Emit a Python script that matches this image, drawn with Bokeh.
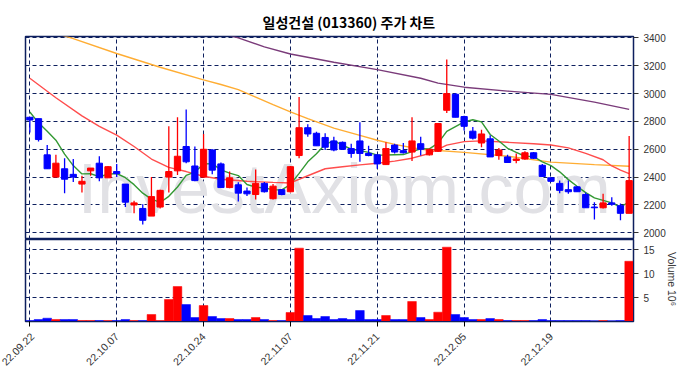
import math
from bokeh.plotting import figure
from bokeh.layouts import column
from bokeh.models import Range1d, FixedTicker, ColumnDataSource, Label
from bokeh.embed import file_html
from bokeh.resources import INLINE

# ---------------- data ----------------
dates = [
    "22.09.22", "22.09.23", "22.09.26", "22.09.27", "22.09.28", "22.09.29", "22.09.30",
    "22.10.04", "22.10.05", "22.10.06", "22.10.07", "22.10.11", "22.10.12", "22.10.13",
    "22.10.14", "22.10.17", "22.10.18", "22.10.19", "22.10.20", "22.10.21", "22.10.24",
    "22.10.25", "22.10.26", "22.10.27", "22.10.28", "22.10.31", "22.11.01", "22.11.02",
    "22.11.03", "22.11.04", "22.11.07", "22.11.08", "22.11.09", "22.11.10", "22.11.11",
    "22.11.14", "22.11.15", "22.11.16", "22.11.17", "22.11.18", "22.11.21", "22.11.22",
    "22.11.23", "22.11.24", "22.11.25", "22.11.28", "22.11.29", "22.11.30", "22.12.01",
    "22.12.02", "22.12.05", "22.12.06", "22.12.07", "22.12.08", "22.12.09", "22.12.12",
    "22.12.13", "22.12.14", "22.12.15", "22.12.16", "22.12.19", "22.12.20", "22.12.21",
    "22.12.22", "22.12.23", "22.12.26", "22.12.27", "22.12.28", "22.12.29", "23.01.02",
]
open_ = [2830, 2820, 2560, 2400, 2460, 2420, 2350, 2445, 2500, 2395,
         2440, 2350, 2200, 2175, 2120, 2185, 2400, 2445, 2620, 2480,
         2400, 2595, 2495, 2325, 2345, 2300, 2275, 2355, 2245, 2310,
         2295, 2555, 2755, 2715, 2685, 2660, 2650, 2605, 2660, 2570,
         2560, 2490, 2630, 2590, 2580, 2640, 2560, 2585, 2880, 2995,
         2835, 2730, 2645, 2675, 2555, 2545, 2520, 2530, 2575, 2485,
         2395, 2355, 2310, 2330, 2275, 2185, 2180, 2215, 2195, 2140]
high = [2830, 2820, 2630, 2560, 2535, 2530, 2410, 2465, 2550, 2480,
        2495, 2350, 2230, 2205, 2400, 2310, 2765, 2830, 2885, 2620,
        2710, 2600, 2505, 2440, 2363, 2325, 2455, 2365, 2350, 2310,
        2480, 2975, 2780, 2725, 2715, 2690, 2655, 2640, 2795, 2625,
        2565, 2650, 2640, 2645, 2830, 2690, 2605, 2785, 3245, 3005,
        2840, 2760, 2740, 2700, 2610, 2560, 2570, 2585, 2580, 2495,
        2395, 2375, 2375, 2335, 2290, 2220, 2280, 2255, 2210, 2695]
low = [2720, 2655, 2460, 2400, 2285, 2365, 2290, 2410, 2370, 2395,
       2400, 2185, 2140, 2060, 2120, 2175, 2290, 2415, 2500, 2370,
       2395, 2420, 2325, 2320, 2225, 2265, 2240, 2290, 2240, 2270,
       2290, 2535, 2690, 2625, 2595, 2585, 2595, 2540, 2510, 2550,
       2460, 2490, 2570, 2570, 2515, 2555, 2555, 2580, 2860, 2830,
       2735, 2670, 2615, 2545, 2525, 2505, 2500, 2525, 2530, 2400,
       2365, 2285, 2280, 2295, 2180, 2095, 2175, 2195, 2090, 2140]
close = [2810, 2670, 2460, 2500, 2385, 2400, 2370, 2465, 2395, 2475,
         2425, 2220, 2215, 2090, 2260, 2305, 2440, 2550, 2510, 2375,
         2600, 2450, 2325, 2395, 2285, 2280, 2355, 2295, 2335, 2275,
         2475, 2755, 2710, 2625, 2615, 2595, 2600, 2570, 2570, 2555,
         2495, 2605, 2580, 2575, 2660, 2600, 2600, 2785, 3000, 2830,
         2765, 2680, 2710, 2545, 2595, 2505, 2530, 2575, 2535, 2405,
         2370, 2305, 2295, 2295, 2180, 2180, 2215, 2205, 2140, 2375]
# volume in millions of shares
volume_m = [0.20, 0.42, 0.69, 0.42, 0.42, 0.42, 0.21, 0.21, 0.21, 0.21,
            0.21, 0.42, 0.21, 0.21, 1.46, 0.21, 4.58, 7.29, 3.54, 0.83,
            3.33, 1.04, 0.62, 0.62, 0.42, 0.42, 0.83, 0.42, 0.21, 0.21,
            1.88, 15.3, 1.25, 0.62, 1.04, 0.42, 0.62, 0.42, 2.29, 0.42,
            0.42, 1.25, 0.42, 0.42, 4.17, 0.83, 0.42, 1.94, 15.5, 1.46,
            0.83, 0.42, 0.42, 0.62, 0.42, 0.21, 0.21, 0.21, 0.21, 0.42,
            0.20, 0.20, 0.20, 0.20, 0.20, 0.15, 0.20, 0.15, 0.20, 12.56]
# moving averages
ma5 = [2868, 2790, 2730, 2665, 2565, 2483, 2423, 2424, 2403, 2421,
       2426, 2396, 2346, 2285, 2242, 2218, 2262, 2329, 2413, 2436,
       2495, 2497, 2452, 2429, 2411, 2347, 2328, 2322, 2310, 2308,
       2347, 2427, 2510, 2568, 2636, 2660, 2629, 2601, 2590, 2578,
       2558, 2559, 2561, 2562, 2583, 2604, 2603, 2644, 2729, 2763,
       2796, 2812, 2797, 2706, 2659, 2607, 2577, 2550, 2548, 2510,
       2483, 2438, 2382, 2334, 2289, 2251, 2233, 2215, 2184, 2223]
ma20_day = [0, 3, 6, 8, 10, 12, 14, 16, 18, 20, 22, 25, 28, 30, 32, 34, 36, 38,
            40, 42, 44, 46, 48, 50, 52, 55, 58, 60, 62, 64, 66, 67, 68, 69]
ma20_val = [3110, 2970, 2840, 2765, 2702, 2620, 2530, 2470, 2440, 2406, 2385, 2370,
            2362, 2358, 2410, 2460, 2475, 2488, 2500, 2515, 2536, 2570, 2630, 2655,
            2660, 2650, 2640, 2631, 2610, 2570, 2525, 2480, 2450, 2425]
ma60_day = [0, 5, 10, 15, 20, 22, 24, 26, 28, 30, 32, 35, 38, 40, 42, 45, 50, 55, 60, 65, 69]
ma60_val = [3490, 3395, 3288, 3189, 3099, 3065, 3028, 2975, 2920, 2868, 2820, 2752,
            2700, 2665, 2635, 2600, 2578, 2550, 2508, 2490, 2478]
ma120_day = [20, 24, 27, 30, 35, 40, 45, 47, 50, 55, 60, 65, 69]
ma120_val = [3470, 3400, 3335, 3284, 3225, 3172, 3110, 3075, 3046, 3018, 2994, 2939, 2887]

price_ticks = [2000, 2200, 2400, 2600, 2800, 3000, 3200, 3400]
volume_ticks = [5, 10, 15]
date_tick_every = 10

# ---------------- styling ----------------
UP = "#ff0000"
DOWN = "#0000ff"
NAVY = "#0d1f5e"
GRID_DASH = "4 3"
LABEL_FONT = "Liberation Sans"

idx = list(range(len(close)))
colors = [UP if c >= o else DOWN for o, c in zip(open_, close)]
src = ColumnDataSource(dict(
    x=idx, o=open_, h=high, l=low, c=close,
    top=[max(o, c) for o, c in zip(open_, close)],
    bot=[min(o, c) for o, c in zip(open_, close)],
    vol=volume_m, color=colors,
))
x_range = Range1d(-0.5, len(close) - 0.5)
date_ticks = idx[::date_tick_every]

def style_common(p):
    p.outline_line_color = NAVY
    p.outline_line_width = 1.5
    p.background_fill_color = "white"
    p.border_fill_color = "white"
    p.xgrid.ticker = FixedTicker(ticks=date_ticks)
    for g in (p.xgrid, p.ygrid):
        g.grid_line_color = NAVY
        g.grid_line_dash = GRID_DASH
        g.grid_line_width = 1
    p.yaxis.axis_line_color = NAVY
    p.yaxis.major_tick_line_color = "#333333"
    p.yaxis.major_tick_out = 5
    p.yaxis.major_tick_in = 0
    p.yaxis.minor_tick_line_color = None
    p.yaxis.major_label_text_font = LABEL_FONT
    p.yaxis.major_label_text_font_size = "10px"
    p.yaxis.major_label_text_color = "#333333"
    p.yaxis.major_label_standoff = 5

# ---------------- price panel ----------------
p = figure(output_backend="svg", toolbar_location=None,
           frame_width=608, frame_height=203,
           min_border_left=25, min_border_right=45, min_border_top=36, min_border_bottom=0,
           x_range=x_range, y_range=Range1d(1952, 3410),
           y_axis_location="right", tools="")
p.title.text = "일성건설 (013360) 주가 차트"
p.title.align = "left"
p.title.offset = 237
p.title.text_font = "Noto Sans CJK KR"
p.title.text_font_size = "14px"
p.title.text_font_style = "bold"
p.title.text_color = "#000000"
p.xaxis.visible = False
p.yaxis.ticker = FixedTicker(ticks=price_ticks)
style_common(p)

wm = Label(x=36.2, y=2317, text="InvestAxiom.com", text_align="center",
           text_baseline="middle", text_font=LABEL_FONT, text_font_size="70px",
           text_color="#e1e1e5", level="underlay")
p.add_layout(wm)

p.line(ma120_day, ma120_val, line_color="#7a3b7a", line_width=1.4)
p.line(ma60_day, ma60_val, line_color="#ffad33", line_width=1.4)
p.line(ma20_day, ma20_val, line_color="#ff4d4d", line_width=1.4)
p.line(idx, ma5, line_color="#339933", line_width=1.4)

p.segment(x0="x", y0="l", x1="x", y1="h", source=src, line_color="color", line_width=1.3)
p.vbar(x="x", width=0.72, top="top", bottom="bot", source=src,
       fill_color="color", line_color="color", line_width=1)

# ---------------- volume panel ----------------
v = figure(output_backend="svg", toolbar_location=None,
           frame_width=608, frame_height=82,
           min_border_left=25, min_border_right=45, min_border_top=0, min_border_bottom=48,
           x_range=x_range, y_range=Range1d(0, 17.1),
           y_axis_location="right", tools="")
v.yaxis.ticker = FixedTicker(ticks=volume_ticks)
v.yaxis.axis_label = "Volume  10⁶"
v.yaxis.axis_label_text_font = LABEL_FONT
v.yaxis.axis_label_text_font_size = "10.5px"
v.yaxis.axis_label_text_font_style = "normal"
v.yaxis.axis_label_text_color = "#333333"
v.yaxis.axis_label_standoff = 8
style_common(v)
v.xaxis.ticker = FixedTicker(ticks=date_ticks)
v.xaxis.major_label_overrides = {i: dates[i] for i in date_ticks}
v.xaxis.major_label_orientation = math.pi / 4
v.xaxis.major_label_text_font = LABEL_FONT
v.xaxis.major_label_text_font_size = "10.5px"
v.xaxis.major_label_text_color = "#333333"
v.xaxis.major_label_standoff = 8
v.xaxis.axis_line_color = NAVY
v.xaxis.major_tick_line_color = "#000000"
v.xaxis.major_tick_out = 5
v.xaxis.major_tick_in = 0
v.xaxis.minor_tick_line_color = None

v.vbar(x="x", width=1.0, top="vol", bottom=0, source=src,
       fill_color="color", line_color="color", line_width=0.5)

layout = column(p, v, spacing=0)
open("out.html", "w").write(file_html(layout, INLINE))
